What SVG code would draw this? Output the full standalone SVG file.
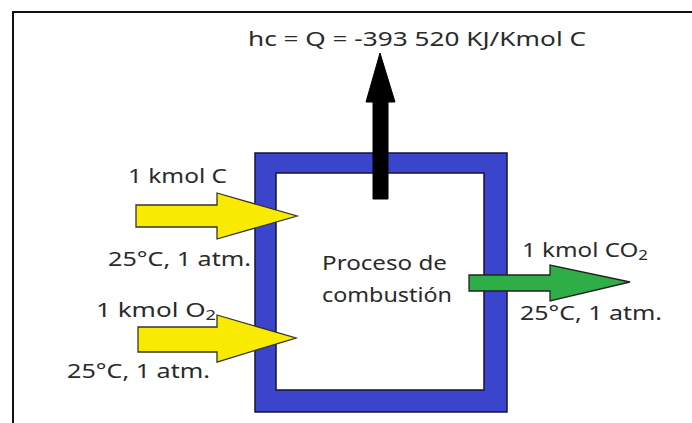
<svg xmlns="http://www.w3.org/2000/svg" width="692" height="423" viewBox="0 0 692 423">
<style>
.t{font-family:"Noto Sans","Open Sans","Liberation Sans",sans-serif;font-size:20px;fill:#2a2a2a}
.sub{font-size:14px}
.frame{fill:none;stroke:#111;stroke-width:2}
.ya{fill:#f8ea00;stroke:#333;stroke-width:1.3;stroke-linejoin:miter}
.ga{fill:#2fae48;stroke:#222;stroke-width:1.3}
.ba{fill:#000;stroke:#000;stroke-width:1}
.box{fill:#3b45cb;stroke:#141438;stroke-width:1.5;fill-rule:evenodd}
</style>
<rect width="692" height="423" fill="#fff"/>
<path class="frame" d="M13 423 V12 H692"/>
<g id="box">
<path class="box" d="M255 153 H507 V412 H255 Z M276 173 V390 H484 V173 Z"/>
<text class="t" x="322" y="270" textLength="125" lengthAdjust="spacingAndGlyphs">Proceso de</text>
<text class="t" x="322" y="302" textLength="130" lengthAdjust="spacingAndGlyphs">combustión</text>
</g>
<g id="connectors">
<polygon id="heat" class="ba" points="373,199 373,102 366,102 380,53 395,102 388,102 388,199"/>
<polygon id="inC" class="ya" points="136,205 217,205 217,193 297,216 217,239 217,227 136,227"/>
<polygon id="inO2" class="ya" points="138,327 217,327 217,315 296,338 217,362 217,352 138,352"/>
<polygon id="outCO2" class="ga" points="469,275 550,275 550,265 630,282 550,301 550,291 469,291"/>
</g>
<g id="heat-label">
<text class="t" x="248" y="46" textLength="338" lengthAdjust="spacingAndGlyphs">hc = Q = -393 520 KJ/Kmol C</text>
</g>
<g id="carbon-label">
<text class="t" x="128" y="183" textLength="99" lengthAdjust="spacingAndGlyphs">1 kmol C</text>
<text class="t" x="108" y="266" textLength="143" lengthAdjust="spacingAndGlyphs">25°C, 1 atm.</text>
</g>
<g id="oxygen-label">
<text class="t" x="96" y="317" textLength="120" lengthAdjust="spacingAndGlyphs">1 kmol  O<tspan class="sub" dy="3">2</tspan></text>
<text class="t" x="67" y="378" textLength="143" lengthAdjust="spacingAndGlyphs">25°C, 1 atm.</text>
</g>
<g id="co2-label">
<text class="t" x="522" y="257" textLength="126" lengthAdjust="spacingAndGlyphs">1 kmol CO<tspan class="sub" dy="3">2</tspan></text>
<text class="t" x="520" y="320" textLength="142" lengthAdjust="spacingAndGlyphs">25°C, 1 atm.</text>
</g>
</svg>
